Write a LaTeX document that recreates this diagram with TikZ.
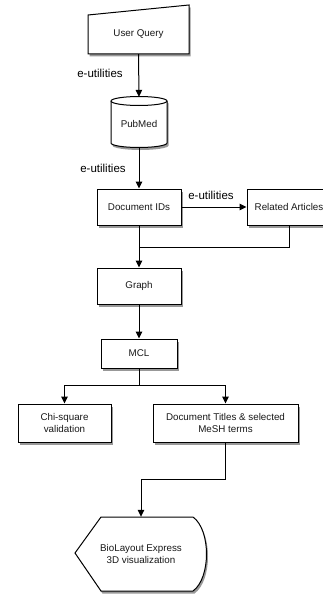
\documentclass[tikz,border=0pt]{standalone}
\usepackage{fontspec}
\setmainfont{Liberation Sans}
\usetikzlibrary{arrows.meta,shadows,calc}
\tikzset{
  shad/.style={drop shadow={shadow xshift=1.5pt,shadow yshift=-2.5pt,opacity=0.5,fill=black!80}},
  box/.style={draw=black,line width=1pt,fill=white,shad,font=\fontsize{9.8}{12.5}\selectfont,text=black!90,align=center,inner sep=0pt},
  lbl/.style={font=\fontsize{11.5}{13}\selectfont,text=black,inner sep=0pt},
  conn/.style={line width=1pt,draw=black},
  arr/.style={conn,-{Triangle[length=7pt,width=6.5pt]}},
  shapeline/.style={draw=black,line width=1pt,fill=white,shad}
}
\begin{document}
\begin{tikzpicture}[x=1pt,y=-1pt]
\useasboundingbox (0,0) rectangle (323,594);
\clip (0,0) rectangle (323,594);
\fill[white] (0,0) rectangle (323,594);
% User Query (manual input)
\draw[shapeline] (88,15) -- (189,5) -- (189,54) -- (88,54) -- cycle;
\node[font=\fontsize{9.8}{12}\selectfont,text=black!90,minimum width=101pt,minimum height=39pt,inner sep=0pt] (uq) at (138.5,34.5) {User Query};
% PubMed cylinder
\draw[shapeline] (111,101) -- (111,143) arc[start angle=180,end angle=360,x radius=28pt,y radius=4.5pt] -- (167,101) arc[start angle=0,end angle=180,x radius=28pt,y radius=4.5pt] -- cycle;
\draw[line width=1pt] (111,101) arc[start angle=180,end angle=360,x radius=28pt,y radius=4.5pt];
\node[font=\fontsize{9.8}{12}\selectfont,text=black!90,minimum width=56pt,minimum height=51pt,inner sep=0pt,text depth=0pt] (pm) at (139,122.5) {\raisebox{-2.5pt}{PubMed}};
% boxes
\node[box,minimum width=84pt,minimum height=36pt] (doc) at (139,207) {Document IDs};
\node[box,minimum width=84pt,minimum height=36pt] (rel) at (289,207) {Related Articles};
\node[box,minimum width=84pt,minimum height=36pt] (graph) at (139,286) {Graph};
\node[box,minimum width=76pt,minimum height=29pt] (mcl) at (139,353.5) {MCL};
\node[box,minimum width=93pt,minimum height=38pt] (chi) at (64.5,423) {Chi-square\\validation};
\node[box,minimum width=145pt,minimum height=38pt] (tit) at (225.5,423) {Document Titles \& selected\\MeSH terms};
% BioLayout display shape
\draw[shapeline] (75,553) -- (101,517) -- (193,517) .. controls (211,530) and (211,578) .. (193,591) -- (101,591) -- cycle;
\node[font=\fontsize{9.8}{12.5}\selectfont,text=black!90,align=center,minimum width=90pt,minimum height=74pt,inner sep=0pt] (bio) at (141,554) {BioLayout Express\\3D visualization};
% labels
\node[lbl] (l1) at (100,73) {e-utilities};
\node[lbl] (l2) at (103,168) {e-utilities};
\node[lbl] (l3) at (211,195) {e-utilities};
% junctions
\coordinate (j1) at (139,247);
\coordinate (j2) at (139,385);
\coordinate (j3) at (141,479);
% connectors
\draw[arr] (uq.south) -- (pm.north);
\draw[arr] (pm.south) -- (doc.north);
\draw[arr] (doc.east) -- (rel.west);
\draw[conn] (rel.south) |- (j1);
\draw[arr] (doc.south) -- (graph.north);
\draw[arr] (graph.south) -- (mcl.north);
\draw[conn] (mcl.south) -- (j2);
\draw[arr] (j2) -| (chi.north);
\draw[arr] (j2) -| (tit.north);
\draw[conn] (tit.south) |- (j3);
\draw[arr] (j3) -- (bio.north);
\end{tikzpicture}
\end{document}
